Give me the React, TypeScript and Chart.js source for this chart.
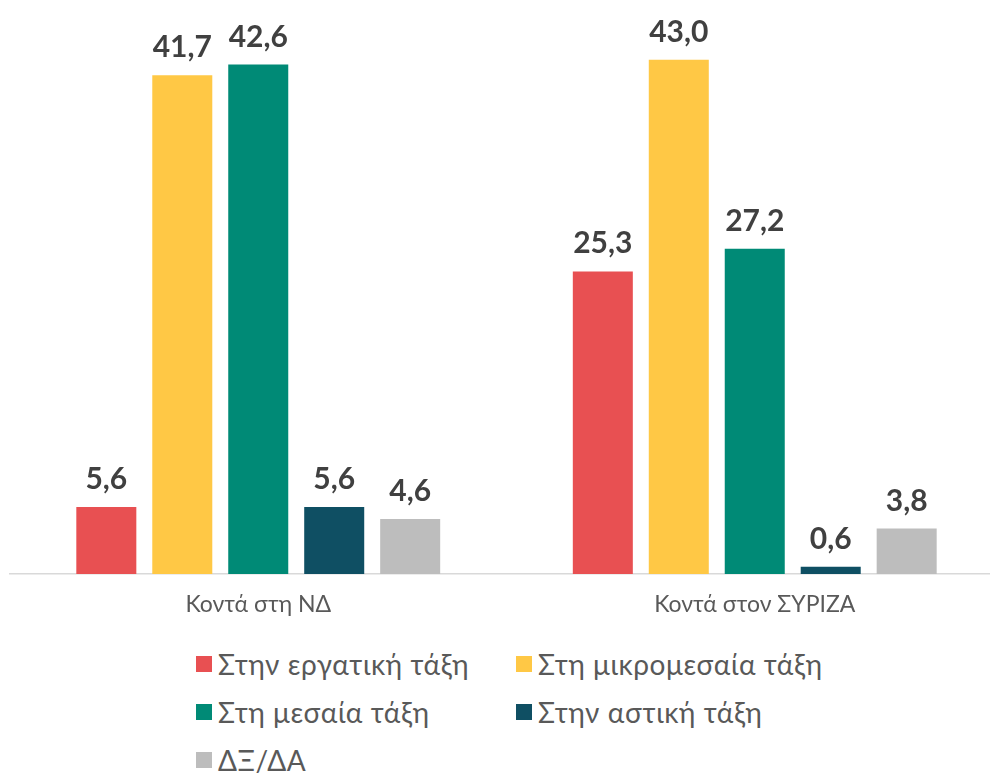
import React, { useEffect, useRef } from "react";
import { Chart, registerables } from "chart.js";

Chart.register(...registerables);

const categories = ["Κοντά στη ΝΔ", "Κοντά στον ΣΥΡΙΖΑ"];
const seriesNames = [
  "Στην εργατική τάξη",
  "Στη μικρομεσαία τάξη",
  "Στη μεσαία τάξη",
  "Στην αστική τάξη",
  "ΔΞ/ΔΑ",
];
const workingClass = [5.6, 25.3];
const lowerMiddleClass = [41.7, 43.0];
const middleClass = [42.6, 27.2];
const upperClass = [5.6, 0.6];
const noAnswer = [4.6, 3.8];
const seriesValues = [workingClass, lowerMiddleClass, middleClass, upperClass, noAnswer];
const seriesColors = ["#E85052", "#FFC845", "#008A76", "#0F4F63", "#BDBDBD"];

const FONT = "Lato, 'Noto Sans', 'DejaVu Sans', sans-serif";

const valueLabels = {
  id: "valueLabels",
  afterDatasetsDraw(chart: any) {
    const ctx = chart.ctx;
    ctx.save();
    ctx.font = `bold 30px ${FONT}`;
    ctx.fillStyle = "#404040";
    ctx.textAlign = "center";
    ctx.textBaseline = "alphabetic";
    chart.data.datasets.forEach((ds: any, i: number) => {
      const meta = chart.getDatasetMeta(i);
      meta.data.forEach((el: any, j: number) => {
        const v = ds.data[j] as number;
        ctx.fillText(v.toFixed(1).replace(".", ","), el.x, el.y - 18);
      });
    });
    ctx.restore();
  },
};

export default function App() {
  const ref = useRef<HTMLCanvasElement>(null);
  useEffect(() => {
    if (!ref.current) return;
    const chart = new Chart(ref.current, {
      type: "bar",
      data: {
        labels: categories,
        datasets: seriesNames.map((name, i) => ({
          label: name,
          data: seriesValues[i],
          backgroundColor: seriesColors[i],
          borderWidth: 0,
          categoryPercentage: 0.765,
          barPercentage: 0.79,
        })),
      },
      options: {
        responsive: false,
        animation: false,
        layout: { padding: { left: 10, right: 0, top: 0, bottom: 0 } },
        plugins: {
          legend: { display: false },
          tooltip: { enabled: false },
        },
        scales: {
          x: {
            grid: { display: false, drawTicks: false },
            border: { display: true, color: "#D9D9D9", width: 1.5 },
            ticks: {
              color: "#595959",
              font: { family: FONT, size: 23 },
              padding: 17,
            },
            afterFit: (scale: any) => {
              scale.height = 66;
            },
          },
          y: {
            display: false,
            min: 0,
            max: 48,
          },
        },
      },
      plugins: [valueLabels],
    });
    return () => chart.destroy();
  }, []);

  const legendPos = [
    { left: 196, top: 664 },
    { left: 516, top: 664 },
    { left: 196, top: 712 },
    { left: 516, top: 712 },
    { left: 196, top: 760 },
  ];

  return (
    <div
      style={{
        position: "fixed",
        left: 0,
        top: 0,
        width: 990,
        height: 776,
        overflow: "hidden",
        background: "#fff",
      }}
    >
      <canvas
        ref={ref}
        width={1003}
        height={640}
        style={{ position: "absolute", left: 0, top: 0, width: 1003, height: 640 }}
      />
      {seriesNames.map((name, i) => (
        <div
          key={name}
          style={{
            position: "absolute",
            left: legendPos[i].left,
            top: legendPos[i].top - 20,
            height: 40,
            display: "flex",
            alignItems: "center",
            whiteSpace: "nowrap",
            fontFamily: FONT,
            fontSize: 28,
            letterSpacing: "0.6px",
            color: "#595959",
          }}
        >
          <span
            style={{
              display: "inline-block",
              width: 16,
              height: 16,
              background: seriesColors[i],
              marginRight: 6,
            }}
          />
          <span>{name}</span>
        </div>
      ))}
    </div>
  );
}
